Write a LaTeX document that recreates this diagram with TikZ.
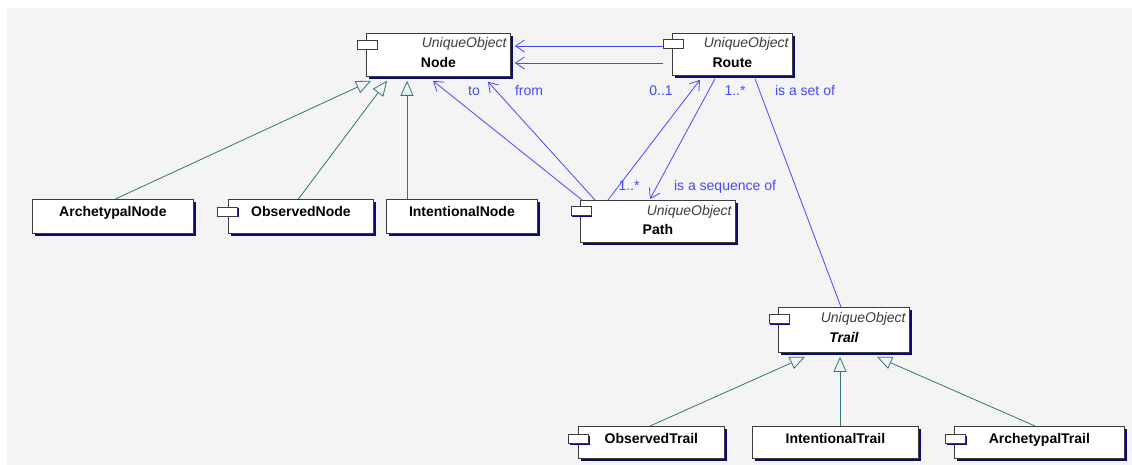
\documentclass[tikz,border=0pt]{standalone}
\usepackage{fontspec}
\setmainfont{Liberation Sans}
\usepackage{tikz}
\usetikzlibrary{arrows.meta,calc,shadows,positioning}
\definecolor{panelbg}{RGB}{244,244,244}
\definecolor{boxline}{RGB}{60,60,60}
\definecolor{shadownavy}{RGB}{10,10,120}
\definecolor{assocblue}{RGB}{72,72,250}
\definecolor{inhteal}{RGB}{50,118,118}
\newcommand{\umlfont}{\fontsize{14}{16}\selectfont}
\tikzstyle{classbox} = [draw=boxline, fill=white, line width=0.8pt,
    rectangle, anchor=north west, inner sep=0pt,
    drop shadow={shadow xshift=3pt, shadow yshift=-3pt, fill=shadownavy, opacity=1}]
\tikzstyle{compicon} = [draw=boxline, fill=white, line width=0.8pt,
    rectangle, inner sep=0pt, minimum width=20pt, minimum height=9pt,
    drop shadow={shadow xshift=1pt, shadow yshift=-1.5pt, fill=shadownavy, opacity=1}]
\tikzstyle{stereo} = [font=\umlfont\itshape, text=boxline, anchor=base east, inner sep=0pt]
\tikzstyle{classname} = [font=\umlfont\bfseries, anchor=base, inner sep=0pt]
\tikzstyle{rolelabel} = [font=\umlfont, text=assocblue, anchor=base, inner sep=0pt]
\tikzstyle{assoc} = [draw=assocblue, line width=0.8pt]
\tikzstyle{navarrow} = [assoc, -{Straight Barb[length=9pt,width=12pt]}]
\tikzstyle{inherit} = [draw=inhteal, line width=0.8pt,
    -{Triangle[open,length=15pt,width=13pt]}]

\begin{document}
\begin{tikzpicture}[x=1pt,y=-1pt]
\useasboundingbox (0,0) rectangle (1132,465);
\fill[white] (0,0) rectangle (1132,465);
\fill[panelbg] (7,8) rectangle (1132,465);

% classes with the UniqueObject stereotype
\node[classbox, minimum width=144pt, minimum height=43pt] (nodebox) at (366,33) {};
\node[stereo] (nodestereo) at ($(nodebox.north east)+(-4,15)$) {UniqueObject};
\node[classname] (nodename) at ($(nodebox.north)+(0,35)$) {Node};
\node[compicon] (nodeicon) at ($(nodebox.north west)+(1,11.5)$) {};

\node[classbox, minimum width=120pt, minimum height=42pt] (routebox) at (672,33) {};
\node[stereo] (routestereo) at ($(routebox.north east)+(-4,15)$) {UniqueObject};
\node[classname] (routename) at ($(routebox.north)+(0,35)$) {Route};
\node[compicon] (routeicon) at ($(routebox.north west)+(1,10.5)$) {};

\node[classbox, minimum width=155pt, minimum height=42pt] (pathbox) at (580,200) {};
\node[stereo] (pathstereo) at ($(pathbox.north east)+(-4,15)$) {UniqueObject};
\node[classname] (pathname) at ($(pathbox.north)+(0,34)$) {Path};
\node[compicon] (pathicon) at ($(pathbox.north west)+(1,11)$) {};

\node[classbox, minimum width=131pt, minimum height=45pt] (trailbox) at (778,307) {};
\node[stereo] (trailstereo) at ($(trailbox.north east)+(-4,15.5)$) {UniqueObject};
\node[classname, font=\umlfont\bfseries\itshape] (trailname) at ($(trailbox.north)+(0,35)$) {Trail};
\node[compicon] (trailicon) at ($(trailbox.north west)+(1,11.5)$) {};

% kinds of node
\node[classbox, minimum width=161pt, minimum height=34pt] (archnode) at (32,199) {};
\node[classname] (archnodename) at ($(archnode.north)+(0,17)$) {ArchetypalNode};

\node[classbox, minimum width=145pt, minimum height=34pt] (obsnode) at (228,199) {};
\node[classname] (obsnodename) at ($(obsnode.north)+(0,17)$) {ObservedNode};
\node[compicon] (obsnodeicon) at ($(obsnode.north west)+(-0.5,12.5)$) {};

\node[classbox, minimum width=151pt, minimum height=34pt] (intnode) at (386,199) {};
\node[classname] (intnodename) at ($(intnode.north)+(0,17)$) {IntentionalNode};

% kinds of trail
\node[classbox, minimum width=146pt, minimum height=32pt] (obstrail) at (578,426) {};
\node[classname] (obstrailname) at ($(obstrail.north)+(0,17)$) {ObservedTrail};
\node[compicon] (obstrailicon) at ($(obstrail.north west)+(0.5,12.5)$) {};

\node[classbox, minimum width=166pt, minimum height=32pt] (inttrail) at (752,426) {};
\node[classname] (inttrailname) at ($(inttrail.north)+(0,17)$) {IntentionalTrail};

\node[classbox, minimum width=170pt, minimum height=32pt] (archtrail) at (954,426) {};
\node[classname] (archtrailname) at ($(archtrail.north)+(0,17)$) {ArchetypalTrail};
\node[compicon] (archtrailicon) at ($(archtrail.north west)+(1.5,12.5)$) {};

% generalisations
\draw[inherit] ($(archnode.north)+(2.5,0)$) -- ($(nodebox.south west)+(5,4)$);
\draw[inherit] ($(obsnode.north)+(-2.5,0)$) -- ($(nodebox.south west)+(21,4)$);
\draw[inherit] ($(intnode.north west)+(21,0)$) -- ($(nodebox.south west)+(41,4)$);
\draw[inherit] ($(obstrail.north west)+(72,0)$) -- ($(trailbox.south west)+(27,4)$);
\draw[inherit] ($(inttrail.north west)+(88,0)$) -- ($(trailbox.south west)+(62,4)$);
\draw[inherit] ($(archtrail.north west)+(81,0)$) -- ($(trailbox.south west)+(99,4)$);

% associations
\draw[navarrow] ($(routebox.north west)+(-9,13)$) -- ($(nodebox.north east)+(4,13)$);
\draw[navarrow] ($(routebox.north west)+(-9,30)$) -- ($(nodebox.north east)+(4,30)$);
\draw[navarrow] ($(pathbox.north west)+(2,0)$) -- ($(nodebox.south west)+(67,4)$);
\draw[navarrow] ($(pathbox.north west)+(15,0)$) -- ($(nodebox.south west)+(122,5)$);
\draw[navarrow] ($(pathbox.north west)+(28,0)$) -- ($(routebox.south west)+(28,4)$);
\draw[navarrow] ($(routebox.south west)+(43,3)$) -- ($(pathbox.north west)+(70,-1)$);
\draw[assoc] ($(routebox.south west)+(83,3)$) -- ($(trailbox.north west)+(63,0)$);

% role and multiplicity labels
\node[rolelabel] (tolabel) at (474,96) {to};
\node[rolelabel] (fromlabel) at (529,96) {from};
\node[rolelabel] (routeopt) at (661,96) {0..1};
\node[rolelabel] (routemany) at (735,96) {1..*};
\node[rolelabel] (setlabel) at (805,96) {is a set of};
\node[rolelabel] (pathmany) at (629,191) {1..*};
\node[rolelabel] (seqlabel) at (725,191) {is a sequence of};
\end{tikzpicture}
\end{document}
